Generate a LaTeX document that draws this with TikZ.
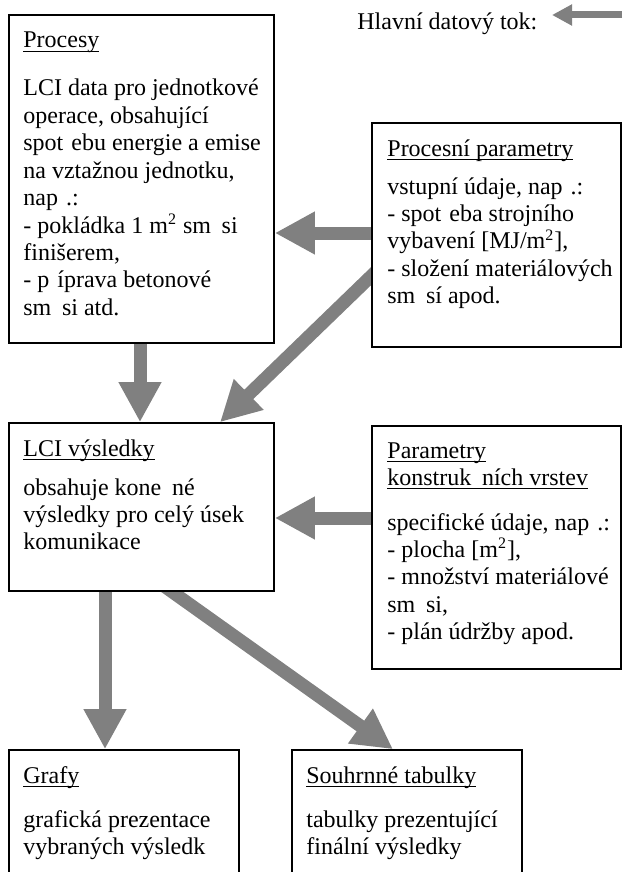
\documentclass[tikz,border=0pt]{standalone}
\usepackage{fontspec}
\setmainfont{Liberation Serif}
\usetikzlibrary{arrows.meta,fit,calc}
\definecolor{flowgray}{HTML}{808080}
\pgfdeclarelayer{bg}
\pgfsetlayers{bg,main}
\newcommand{\gR}{\hspace{0.333em}}
\newcommand{\gE}{\hspace{0.444em}}
\newcommand{\wul}[1]{\setbox0\hbox{#1}\rlap{\rule[-2pt]{\wd0}{0.5pt}}\box0}
\begin{document}
\begin{tikzpicture}[x=0.5pt,y=-0.5pt,
  box/.style={draw=black, line width=0.8pt, inner sep=0pt, fill=white},
  txt/.style={anchor=base west, inner sep=0pt, font=\fontsize{12}{13.7}\selectfont},
  flow/.style={draw=flowgray, line width=6.5pt, -{Triangle[length=20pt,width=20pt]}},
  legflow/.style={draw=flowgray, line width=3.5pt, -{Triangle[length=10pt,width=10pt]}}]
\path[use as bounding box] (0,0) rectangle (622,872);
\clip (0,0) rectangle (622,872);

% boxes
\node[box, fit={(9,15) (274,343)}] (procesy) {};
\node[box, fit={(372,123) (621,347)}] (procparam) {};
\node[box, fit={(9,423) (274,591)}] (lcires) {};
\node[box, fit={(372,426) (621,669)}] (konstr) {};
\node[box, fit={(9,750) (239,900)}] (grafy) {};
\node[box, fit={(292,750) (522,900)}] (souhrn) {};

% legend
\node[txt] (legend) at (357,30) {Hlavní datový tok:};
\coordinate (legstart) at (622,15);
\coordinate (legtip) at (552,15);

% texts
\node[txt] (procesyT) at (23,48) {\wul{Procesy}};
\node[txt] (procesyB) at (23,96) {\begin{tabular}[t]{@{}l@{}}
LCI data pro jednotkové\\
operace, obsahující\\
spot\gR{}ebu energie a emise\\
na vztažnou jednotku,\\
nap\gR{}.:\\
- pokládka 1 m\textsuperscript{2} sm\gE{}si\\
finišerem,\\
- p\gR{}íprava betonové\\
sm\gE{}si atd.
\end{tabular}};

\node[txt] (procparamT) at (387,156) {\wul{Procesní parametry}};
\node[txt] (procparamB) at (387,194) {\begin{tabular}[t]{@{}l@{}}
vstupní údaje, nap\gR{}.:\\
- spot\gR{}eba strojního\\
vybavení [MJ/m\textsuperscript{2}],\\
- složení materiálových\\
sm\gE{}sí apod.
\end{tabular}};

\node[txt] (lciresT) at (23,456) {\wul{LCI výsledky}};
\node[txt] (lciresB) at (23,495) {\begin{tabular}[t]{@{}l@{}}
obsahuje kone\gE{}né\\
výsledky pro celý úsek\\
komunikace
\end{tabular}};

\node[txt] (konstrT) at (387,458) {\begin{tabular}[t]{@{}l@{}}
\wul{Parametry}\\
\wul{konstruk\gE{}ních vrstev}
\end{tabular}};
\node[txt] (konstrB) at (387,530) {\begin{tabular}[t]{@{}l@{}}
specifické údaje, nap\gR{}.:\\
- plocha [m\textsuperscript{2}],\\
- množství materiálové\\
sm\gE{}si,\\
- plán údržby apod.
\end{tabular}};

\node[txt] (grafyT) at (23,783) {\wul{Grafy}};
\node[txt] (grafyB) at (23,827) {\begin{tabular}[t]{@{}l@{}}
grafická prezentace\\
vybraných výsledk
\end{tabular}};

\node[txt] (souhrnT) at (306,783) {\wul{Souhrnné tabulky}};
\node[txt] (souhrnB) at (306,827) {\begin{tabular}[t]{@{}l@{}}
tabulky prezentující\\
finální výsledky
\end{tabular}};

% connectors
\begin{pgfonlayer}{bg}
\draw[legflow] (legstart) -- (legtip);
\draw[flow] (procparam.west |- 0,233) -- (procesy.east |- 0,233);
\draw[flow] ($(procparam.west |- 0,276)+(8,-7.7)$) -- (220,0 |- lcires.north);
\draw[flow] (procesy.south -| 140,0) -- (lcires.north -| 140,0);
\draw[flow] (konstr.west |- 0,518) -- (lcires.east |- 0,518);
\draw[flow] (lcires.south -| 105,0) -- (grafy.north -| 105,0);
\draw[flow] ($(lcires.south -| 172,0)+(-11.1,-8)$) -- (souhrn.north -| 393,0);
\end{pgfonlayer}
\end{tikzpicture}
\end{document}
